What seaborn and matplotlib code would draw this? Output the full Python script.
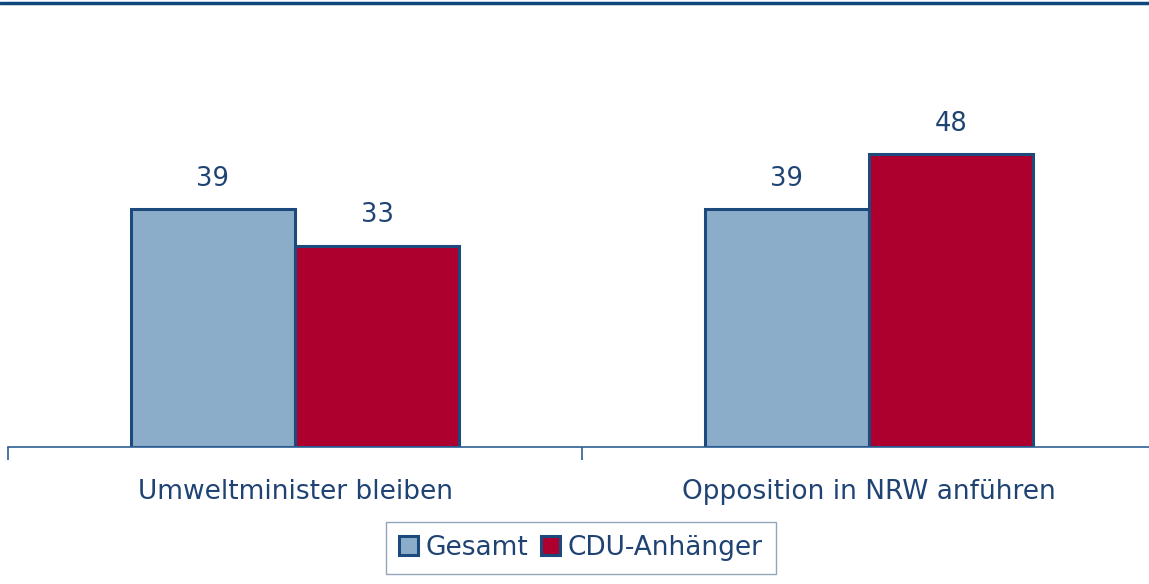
import matplotlib
matplotlib.use("Agg")
import matplotlib.pyplot as plt
import seaborn as sns
import pandas as pd
from matplotlib.lines import Line2D
from matplotlib.patches import Patch

categories = ["Umweltminister bleiben", "Opposition in NRW anführen"]
series_names = ["Gesamt", "CDU-Anhänger"]
gesamt = [39, 39]
cdu = [33, 48]

df = pd.DataFrame({
    "Kategorie": categories * 2,
    "Gruppe": [series_names[0]] * 2 + [series_names[1]] * 2,
    "Wert": gesamt + cdu,
})

sns.set_theme(style="white")
plt.rcParams["font.family"] = ["DejaVu Sans"]

TXT = "#1F4373"
EDGE = "#1C4A7C"
colors = {"Gesamt": "#8BADC9", "CDU-Anhänger": "#AE002F"}

fig = plt.figure(figsize=(11.49, 5.84), dpi=100)
ax = fig.add_axes([8 / 1149, 1 - 447 / 584, 1148 / 1149, 427 / 584])

sns.barplot(data=df, x="Kategorie", y="Wert", hue="Gruppe", order=categories,
            hue_order=series_names, palette=colors, width=0.572, gap=0,
            edgecolor=EDGE, linewidth=2.2, ax=ax, legend=False, saturation=1)

for c in ax.containers:
    ax.bar_label(c, fmt="%d", padding=12.5, color=TXT, fontsize=18.5)

ax.set_ylim(0, 70)
ax.set_xlim(-0.5, 1.5)
ax.set_xlabel("")
ax.set_ylabel("")
ax.set_yticks([])
for s in ["top", "right", "left"]:
    ax.spines[s].set_visible(False)
ax.spines["bottom"].set_color("#2E5F93")
ax.spines["bottom"].set_linewidth(1.2)
ax.set_xticks([0, 1])
ax.set_xticklabels(categories, color=TXT, fontsize=19)
ax.set_xticks([-0.5, 0.5, 1.5], minor=True)
ax.tick_params(axis="x", which="major", bottom=False, length=0, pad=23)
ax.tick_params(axis="x", which="minor", bottom=True, length=9, width=1.2,
               color="#2E5F93", direction="out")

handles = [Patch(facecolor=colors[n], edgecolor=EDGE, linewidth=2.2, label=n) for n in series_names]
leg = fig.legend(handles=handles, loc="center", bbox_to_anchor=(581 / 1149, 1 - 548 / 584),
                 ncol=2, frameon=True, fancybox=False, fontsize=19, handlelength=0.72,
                 handleheight=0.72, handletextpad=0.27, columnspacing=0.5,
                 borderpad=0.5, borderaxespad=0, labelcolor=TXT)
leg.get_frame().set_edgecolor("#7A8FA8")
leg.get_frame().set_linewidth(1.0)

fig.add_artist(Line2D([0, 1], [1 - 3 / 584, 1 - 3 / 584], transform=fig.transFigure,
                      color="#0E477C", linewidth=2.5))

fig.savefig("out.png", dpi=100)
